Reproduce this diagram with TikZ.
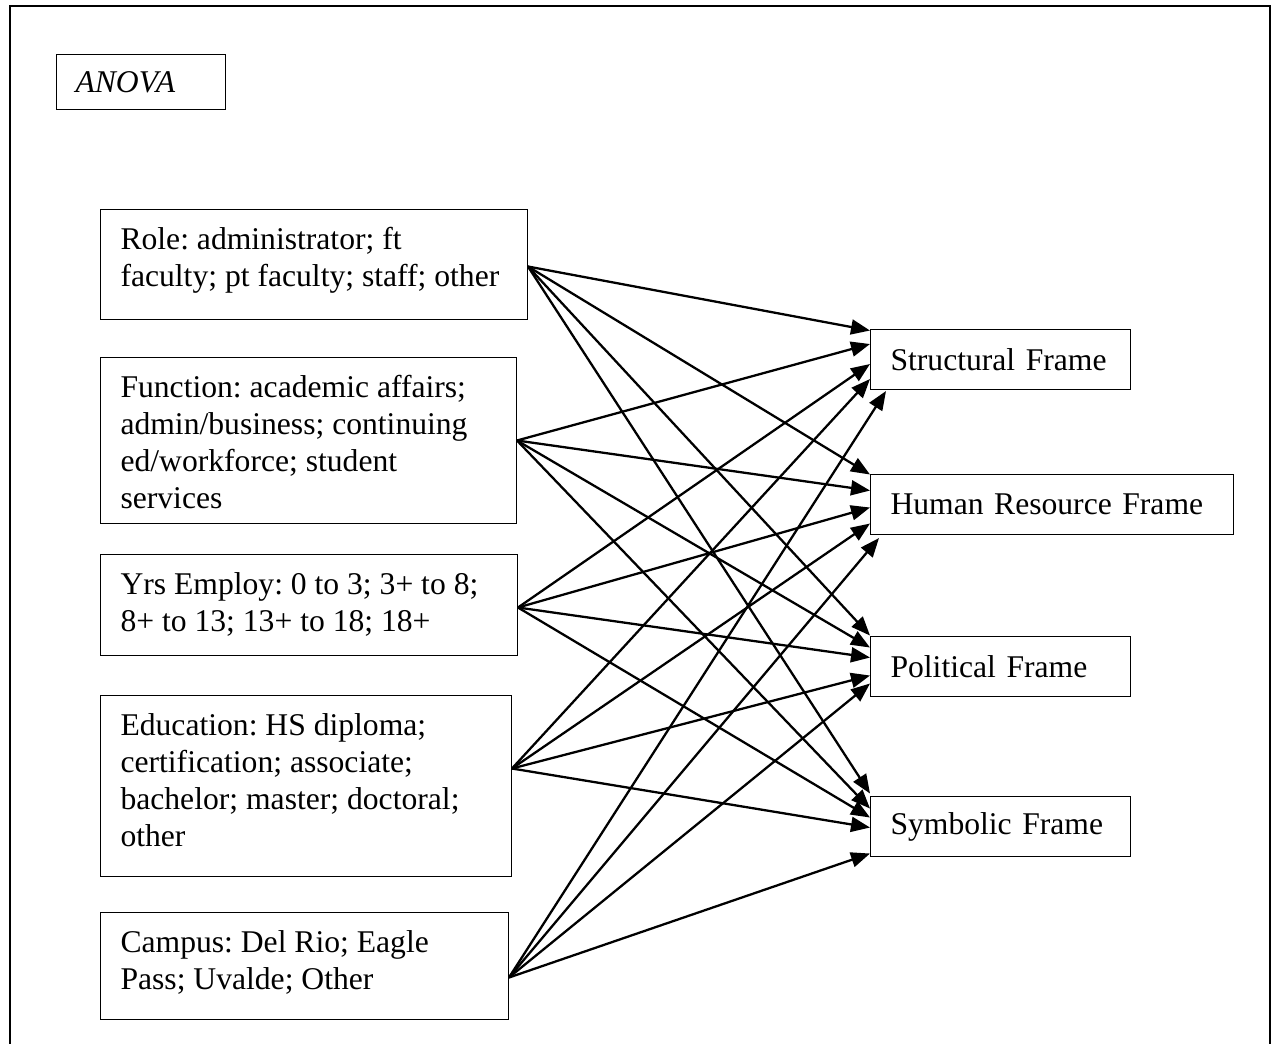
\documentclass[tikz,border=0pt]{standalone}
\usepackage{fontspec}
\setmainfont{Liberation Serif}
\usetikzlibrary{arrows.meta}
\frenchspacing
\tikzset{
  factor/.style={draw,line width=0.6pt,anchor=north west,inner xsep=0.4cm,inner ysep=0.28cm,font=\fontsize{18}{21}\selectfont},
  framebox/.style={draw,line width=0.6pt,anchor=north west,minimum height=1.2cm,inner xsep=0.4cm,align=left,font=\fontsize{18}{21}\selectfont},
  link/.style={-{Triangle[length=0.38cm,width=0.3cm]},line width=1.3pt},
}
\newcommand{\factortext}[3]{\parbox[t][#2][t]{#1}{\raggedright\strut #3}}
\begin{document}
\begin{tikzpicture}[x=0.02cm,y=-0.02cm]
      \useasboundingbox (0,0) rectangle (1275,1044);%
      \draw[line width=1.6pt] (10,1044) -- (10,6) -- (1270,6) -- (1270,1044);%

      \node[framebox,text width=2.62cm,inner xsep=0.38cm,minimum height=1.1cm,font=\fontsize{18}{21}\selectfont\itshape] (T) at (56,54) {ANOVA};%

      \node[factor] (V1) at (100,209) {\factortext{7.74cm}{1.64cm}{Role: administrator; ft\\ faculty; pt faculty; staff; other}};%
      \node[factor] (V2) at (100,357) {\factortext{7.52cm}{2.76cm}{Function: academic affairs;\\ admin/business; continuing\\ ed/workforce; student\\ services}};%
      \node[factor] (V3) at (100,554) {\factortext{7.54cm}{1.46cm}{Yrs Employ: 0 to 3; 3+ to 8;\\ 8+ to 13; 13+ to 18; 18+}};%
      \node[factor] (V4) at (100,695) {\factortext{7.42cm}{3.06cm}{Education: HS diploma;\\ certification; associate;\\ bachelor; master; doctoral;\\ other}};%
      \node[factor] (V5) at (100,912) {\factortext{7.36cm}{1.58cm}{Campus: Del Rio; Eagle\\ Pass; Uvalde; Other}};%

      \node[framebox,text width=4.4cm] (F1) at (870,329) {Structural Frame};%
      \node[framebox,text width=6.46cm] (F2) at (870,474) {Human Resource Frame};%
      \node[framebox,text width=4.4cm] (F3) at (870,636) {Political Frame};%
      \node[framebox,text width=4.4cm] (F4) at (870,796) {Symbolic Frame};%

      \coordinate (P1) at ([yshift=-0.04cm]V1.east);%
      \coordinate (P2) at (V2.east);%
      \coordinate (P3) at ([yshift=-0.05cm]V3.east);%
      \coordinate (P4) at ([yshift=0.35cm]V4.east);%
      \coordinate (P5) at ([yshift=-0.23cm]V5.east);%

      \draw[link] (P1) -- ([yshift=0.58cm]F1.west);%
      \draw[link] (P1) -- ([yshift=0.60cm]F2.west);%
      \draw[link] (P1) -- ([yshift=0.62cm]F3.west);%
      \draw[link] (P1) -- ([yshift=0.66cm]F4.west);%

      \draw[link] (P2) -- ([yshift=0.31cm]F1.west);%
      \draw[link] (P2) -- ([yshift=0.28cm]F2.west);%
      \draw[link] (P2) -- ([yshift=0.38cm]F3.west);%
      \draw[link] (P2) -- ([yshift=0.36cm]F4.west);%

      \draw[link] (P3) -- ([yshift=-0.09cm]F1.west);%
      \draw[link] (P3) -- ([yshift=-0.06cm]F2.west);%
      \draw[link] (P3) -- ([yshift=0.18cm]F3.west);%
      \draw[link] (P3) -- ([yshift=0.18cm]F4.west);%

      \draw[link] (P4) -- ([yshift=-0.39cm]F1.west);%
      \draw[link] (P4) -- ([yshift=-0.38cm]F2.west);%
      \draw[link] (P4) -- ([yshift=-0.18cm]F3.west);%
      \draw[link] (P4) -- ([yshift=-0.02cm]F4.west);%

      \draw[link] (P5) -- ([xshift=0.32cm,yshift=-0.02cm]F1.south west);%
      \draw[link] (P5) -- ([xshift=0.18cm,yshift=-0.06cm]F2.south west);%
      \draw[link] (P5) -- ([yshift=-0.34cm]F3.west);%
      \draw[link] (P5) -- ([yshift=-0.54cm]F4.west);%
\end{tikzpicture}
\end{document}
